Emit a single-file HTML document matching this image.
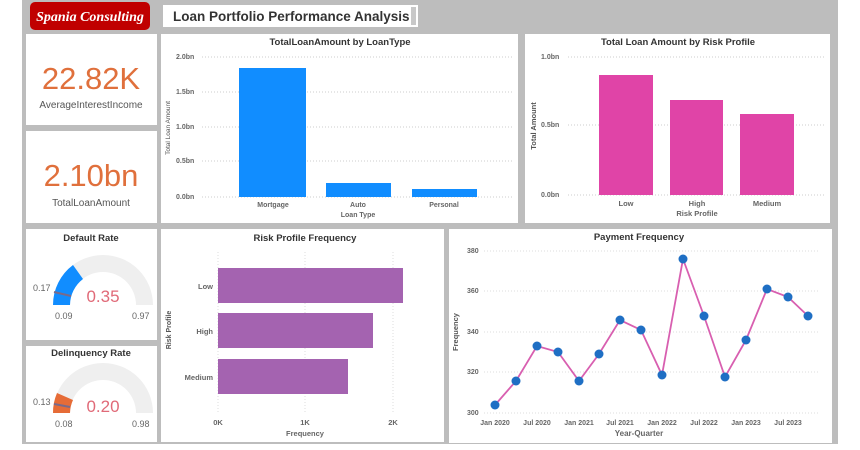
<!DOCTYPE html>
<html><head><meta charset="utf-8"><style>
html,body{margin:0;padding:0;background:#fff;width:860px;height:450px;overflow:hidden}
svg{display:block;font-family:"Liberation Sans",sans-serif}
</style></head><body>
<svg width="860" height="450" viewBox="0 0 860 450" xmlns="http://www.w3.org/2000/svg">
<rect x="22" y="0" width="816" height="444" fill="#bdbdbd"/>
<!-- logo -->
<rect x="30" y="2" width="120" height="28" rx="5" fill="#c00000"/>
<text x="90" y="21" font-family="Liberation Serif,serif" font-style="italic" font-weight="bold" font-size="14" fill="#fff" text-anchor="middle">Spania Consulting</text>
<!-- title -->
<rect x="163" y="5" width="255" height="22" fill="#fff"/>
<rect x="411" y="7" width="5" height="18" fill="#c8c8c8"/>
<text x="173" y="21" font-weight="bold" font-size="13.5" fill="#333">Loan Portfolio Performance Analysis</text>
<!-- panels -->
<g fill="#fff">
<rect x="26" y="34" width="131" height="91"/>
<rect x="26" y="131" width="131" height="92"/>
<rect x="161" y="34" width="357" height="189"/>
<rect x="525" y="34" width="305" height="189"/>
<rect x="26" y="229" width="131" height="111"/>
<rect x="26" y="346" width="131" height="96"/>
<rect x="161" y="229" width="283" height="213"/>
<rect x="449" y="229" width="383" height="214"/>
</g>
<!-- KPIs -->
<text x="91" y="89" font-size="31" fill="#e0703c" text-anchor="middle">22.82K</text>
<text x="91" y="108" font-size="10" fill="#555" text-anchor="middle">AverageInterestIncome</text>
<text x="91" y="186" font-size="31" fill="#e0703c" text-anchor="middle">2.10bn</text>
<text x="91" y="206" font-size="10" fill="#555" text-anchor="middle">TotalLoanAmount</text>
<!-- Chart1 -->
<text x="340" y="45" font-size="9.5" font-weight="bold" fill="#333" text-anchor="middle">TotalLoanAmount by LoanType</text>
<g stroke="#ccc" stroke-dasharray="1,2" stroke-width="1">
<line x1="202" y1="57" x2="514" y2="57"/><line x1="202" y1="92" x2="514" y2="92"/><line x1="202" y1="127" x2="514" y2="127"/><line x1="202" y1="161" x2="514" y2="161"/><line x1="202" y1="197" x2="514" y2="197"/>
</g>
<g font-size="7" fill="#666" font-weight="bold">
<text x="176" y="59">2.0bn</text><text x="176" y="94">1.5bn</text><text x="176" y="129">1.0bn</text><text x="176" y="163">0.5bn</text><text x="176" y="199">0.0bn</text>
</g>
<text transform="translate(170,128) rotate(-90)" font-size="6.5" fill="#555" text-anchor="middle">Total Loan Amount</text>
<g fill="#118dff">
<rect x="239" y="68" width="67" height="129"/><rect x="326" y="183" width="65" height="14"/><rect x="412" y="189" width="65" height="8"/>
</g>
<g font-size="7" fill="#666" text-anchor="middle" font-weight="bold">
<text x="273" y="207">Mortgage</text><text x="358" y="207">Auto</text><text x="444" y="207">Personal</text><text x="358" y="217">Loan Type</text>
</g>
<!-- Chart2 -->
<text x="678" y="45" font-size="9.5" font-weight="bold" fill="#333" text-anchor="middle">Total Loan Amount by Risk Profile</text>
<g stroke="#ccc" stroke-dasharray="1,2">
<line x1="568" y1="57" x2="826" y2="57"/><line x1="568" y1="125" x2="826" y2="125"/><line x1="568" y1="195" x2="826" y2="195"/>
</g>
<g font-size="7" fill="#666" font-weight="bold">
<text x="541" y="59">1.0bn</text><text x="541" y="127">0.5bn</text><text x="541" y="197">0.0bn</text>
</g>
<text transform="translate(536,126) rotate(-90)" font-size="7.5" font-weight="bold" fill="#555" text-anchor="middle">Total Amount</text>
<g fill="#e044a7">
<rect x="599" y="75" width="54" height="120"/><rect x="670" y="100" width="53" height="95"/><rect x="740" y="114" width="54" height="81"/>
</g>
<g font-size="7.5" fill="#666" text-anchor="middle" font-weight="bold">
<text x="626" y="206">Low</text><text x="697" y="206">High</text><text x="767" y="206">Medium</text><text x="697" y="216">Risk Profile</text>
</g>
<!-- Gauge 1 -->
<text x="91" y="241" font-size="9.5" font-weight="bold" fill="#333" text-anchor="middle">Default Rate</text>
<path d="M53,305 A50,50 0 0 1 153,305 L136,305 A33,33 0 0 0 70,305 Z" fill="#efefef"/>
<path d="M53,305 A50,50 0 0 1 73,265 L83,279 A33,33 0 0 0 70,305 Z" fill="#118dff"/>
<line x1="54" y1="292" x2="71" y2="296" stroke="#7a6a8a" stroke-width="2"/>
<text x="103" y="302" font-size="17" fill="#e06a78" text-anchor="middle">0.35</text>
<g font-size="9" fill="#666"><text x="33" y="291">0.17</text><text x="55" y="319">0.09</text><text x="132" y="319">0.97</text></g>
<!-- Gauge 2 -->
<text x="91" y="356" font-size="9.5" font-weight="bold" fill="#333" text-anchor="middle">Delinquency Rate</text>
<path d="M53,413 A50,50 0 0 1 153,413 L136,413 A33,33 0 0 0 70,413 Z" fill="#efefef"/>
<path d="M53,413 A50,50 0 0 1 57,393 L73,400 A33,33 0 0 0 70,413 Z" fill="#e66c37"/>
<line x1="54" y1="404" x2="70" y2="407" stroke="#7a6a8a" stroke-width="2"/>
<text x="103" y="412" font-size="17" fill="#e06a78" text-anchor="middle">0.20</text>
<g font-size="9" fill="#666"><text x="33" y="405">0.13</text><text x="55" y="427">0.08</text><text x="132" y="427">0.98</text></g>
<!-- Risk freq -->
<text x="305" y="241" font-size="9.5" font-weight="bold" fill="#333" text-anchor="middle">Risk Profile Frequency</text>
<g stroke="#ddd" stroke-dasharray="1,2">
<line x1="218" y1="252" x2="218" y2="412"/><line x1="305" y1="252" x2="305" y2="412"/><line x1="393" y1="252" x2="393" y2="412"/>
</g>
<g fill="#a463b0">
<rect x="218" y="268" width="185" height="35"/><rect x="218" y="313" width="155" height="35"/><rect x="218" y="359" width="130" height="35"/>
</g>
<g font-size="7.5" fill="#666" font-weight="bold" text-anchor="end">
<text x="213" y="289">Low</text><text x="213" y="334">High</text><text x="213" y="380">Medium</text>
</g>
<text transform="translate(171,330) rotate(-90)" font-size="7" font-weight="bold" fill="#555" text-anchor="middle">Risk Profile</text>
<g font-size="7.5" fill="#666" font-weight="bold" text-anchor="middle">
<text x="218" y="425">0K</text><text x="305" y="425">1K</text><text x="393" y="425">2K</text><text x="305" y="436">Frequency</text>
</g>
<!-- Payment -->
<text x="639" y="240" font-size="9.5" font-weight="bold" fill="#333" text-anchor="middle">Payment Frequency</text>
<g stroke="#ddd" stroke-dasharray="1,2">
<line x1="484" y1="251" x2="818" y2="251"/><line x1="484" y1="291" x2="818" y2="291"/><line x1="484" y1="332" x2="818" y2="332"/><line x1="484" y1="372" x2="818" y2="372"/><line x1="484" y1="413" x2="818" y2="413"/>
</g>
<g font-size="7" fill="#666" font-weight="bold">
<text x="467" y="253">380</text><text x="467" y="293">360</text><text x="467" y="334">340</text><text x="467" y="374">320</text><text x="467" y="415">300</text>
</g>
<text transform="translate(458,332) rotate(-90)" font-size="7.5" font-weight="bold" fill="#555" text-anchor="middle">Frequency</text>
<polyline fill="none" stroke="#d85fb0" stroke-width="1.8" points="495,405 516,381 537,346 558,352 579,381 599,354 620,320 641,330 662,375 683,259 704,316 725,377 746,340 767,289 788,297 808,316"/>
<g fill="#1f6fc4">
<circle cx="495" cy="405" r="4.5"/><circle cx="516" cy="381" r="4.5"/><circle cx="537" cy="346" r="4.5"/><circle cx="558" cy="352" r="4.5"/><circle cx="579" cy="381" r="4.5"/><circle cx="599" cy="354" r="4.5"/><circle cx="620" cy="320" r="4.5"/><circle cx="641" cy="330" r="4.5"/><circle cx="662" cy="375" r="4.5"/><circle cx="683" cy="259" r="4.5"/><circle cx="704" cy="316" r="4.5"/><circle cx="725" cy="377" r="4.5"/><circle cx="746" cy="340" r="4.5"/><circle cx="767" cy="289" r="4.5"/><circle cx="788" cy="297" r="4.5"/><circle cx="808" cy="316" r="4.5"/>
</g>
<g font-size="7" fill="#666" font-weight="bold" text-anchor="middle">
<text x="495" y="425">Jan 2020</text><text x="537" y="425">Jul 2020</text><text x="579" y="425">Jan 2021</text><text x="620" y="425">Jul 2021</text><text x="662" y="425">Jan 2022</text><text x="704" y="425">Jul 2022</text><text x="746" y="425">Jan 2023</text><text x="788" y="425">Jul 2023</text>
<text x="639" y="436" font-size="8">Year-Quarter</text>
</g>
</svg>
</body></html>
